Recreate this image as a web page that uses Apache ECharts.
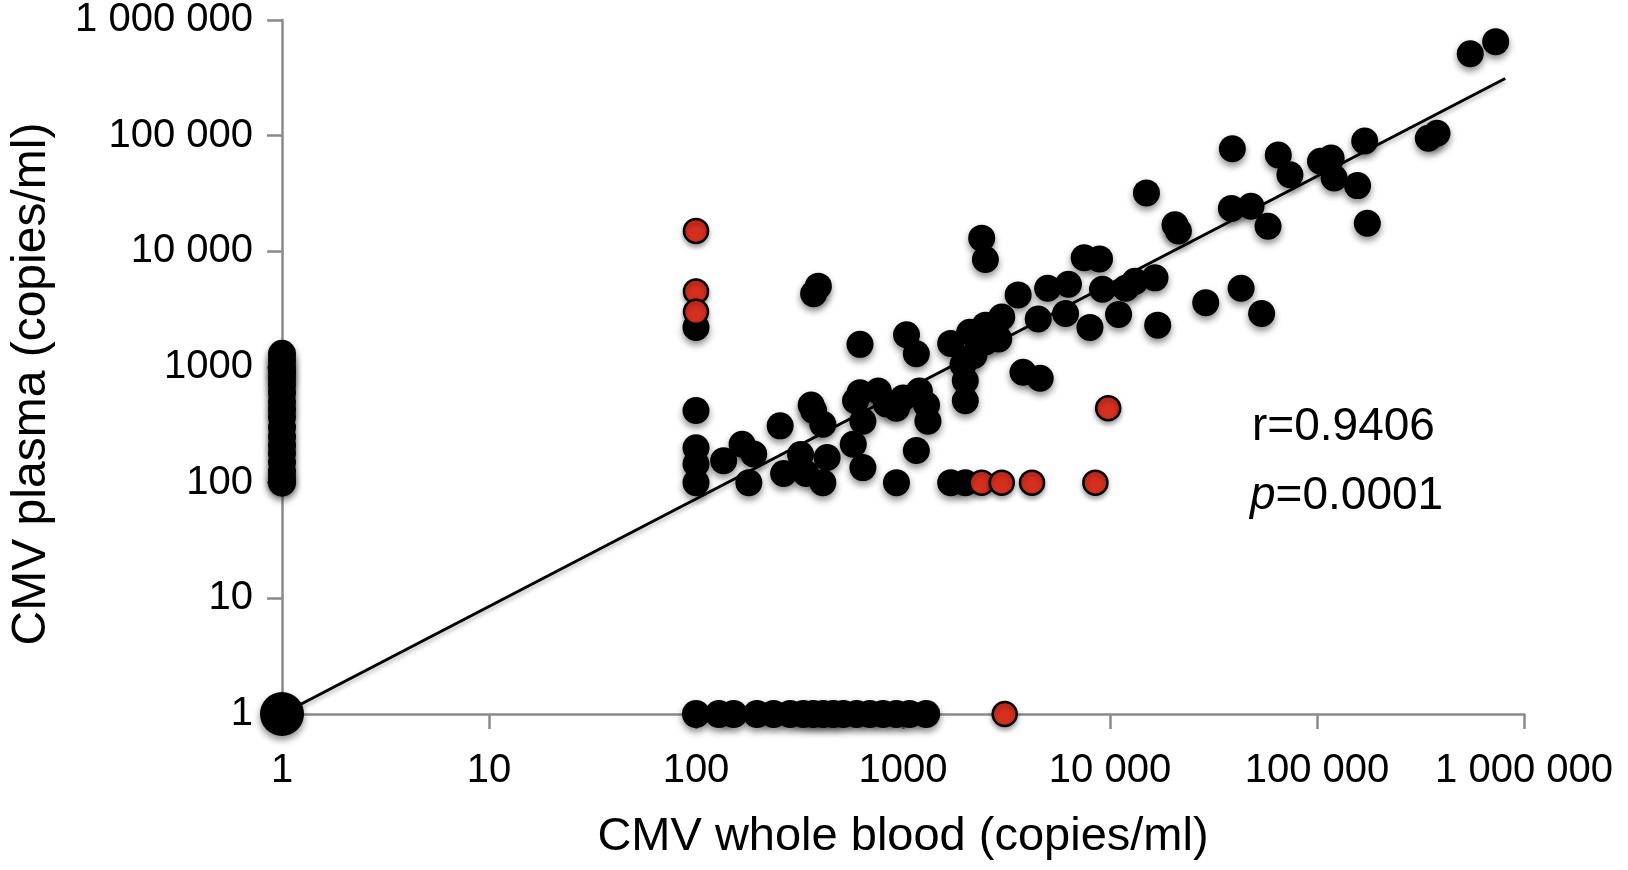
<!DOCTYPE html>
<html>
<head>
<meta charset="utf-8">
<script src="https://cdn.jsdelivr.net/npm/echarts@6/dist/echarts.min.js"></script>
<style>
html,body{margin:0;padding:0;background:#ffffff;}
#chart{width:1628px;height:870px;}
</style>
</head>
<body>
<div id="chart"></div>
<script>
// Tick labels for both log axes (decades 10^0 .. 10^6)
const tickLabels = ['1', '10', '100', '1000', '10 000', '100 000', '1 000 000'];

// Axis titles and statistics
const xTitle = 'CMV whole blood (copies/ml)';
const yTitle = 'CMV plasma (copies/ml)';
const statR = 'r=0.9406';
const statP = '=0.0001';

// [whole blood, plasma] — negative in whole blood (plotted at 1)
const colWholeBloodNeg = [
  [1,1300],[1,1150],[1,1000],[1,900],[1,800],[1,700],[1,600],[1,500],[1,430],[1,370],
  [1,300],[1,250],[1,210],[1,180],[1,150],[1,125],[1,110],[1,100]
];

// [whole blood, plasma] — negative in plasma (plotted at 1)
const rowPlasmaNeg = [
  [100,1],[129,1],[152,1],[197,1],[237,1],[285,1],[330,1],[369,1],[412,1],[461,1],
  [515,1],[597,1],[692,1],[801,1],[929,1],[1076,1],[1294,1]
];

// Both negative
const originPoint = [[1,1]];

// Black points, lower / middle range
const lowerPoints = [
  [100,2200],[100,420],[100,200],[100,145],[100,100],
  [136,155],[167,215],[190,177],[180,100],[255,310],[265,120],[320,175],[340,120],
  [410,320],[370,420],[360,470],[430,165],[410,100],[575,215],[640,135],[590,510],
  [620,600],[760,620],[930,440],[1000,540],[1200,620],[1300,470],[1320,340],[640,340],
  [830,480],[1160,190],[930,100],[1700,100],[2000,100]
];

// Black points, upper-middle range
const middlePoints = [
  [390,5000],[370,4300],[620,1570],[1040,1900],[1160,1300],[1700,1600],[2100,2000],
  [2500,1650],[2900,1750],[2200,1260],[2500,2300],[3000,2700],[3600,4200],[5000,4800],
  [6300,5200],[7500,8800],[8900,8600],[4500,2600],[6100,2900],[8000,2200],[9200,4700],
  [1950,1050],[2000,760],[2000,510],[3800,900],[4600,800],[2400,13000],[2500,8500]
];

// Black points, upper range
const upperPoints = [
  [550000,510000],[730000,650000],[380000,105000],[345000,95000],[170000,90000],
  [39000,77000],[65000,68000],[74000,46000],[104000,60000],[117000,64000],[121000,43000],
  [157000,37000],[175000,17500],[15000,32000],[20600,17000],[21400,15000],[38600,23500],
  [48000,24500],[58000,16500],[11900,4800],[13200,5500],[16500,5900],[11000,2850],
  [17000,2300],[29000,3600],[43000,4800],[54000,2900]
];

// Red points
const redPoints = [
  [100,15000],[100,4500],[100,3000],[9800,440],
  [2400,100],[3000,100],[4200,100],[8500,100],[3100,1]
];

// Regression line end points
const fitLine = [[1,1],[811000,312000]];

const FONT = '"Liberation Sans", Arial, Helvetica, sans-serif';
const AXIS_COLOR = '#8a8a8a';

function decadeLabel(v) {
  const i = Math.round(Math.log10(v));
  return tickLabels[i] !== undefined ? tickLabels[i] : '';
}

const chart = echarts.init(document.getElementById('chart'), null, {renderer: 'canvas'});

const blackStyle = {
  color: '#000000',
  opacity: 1,
  shadowBlur: 7,
  shadowOffsetY: 4,
  shadowColor: 'rgba(0,0,0,0.45)'
};

chart.setOption({
  animation: false,
  backgroundColor: '#ffffff',
  grid: {left: 276, right: 104, top: 16, bottom: 156, containLabel: false},
  xAxis: {
    type: 'log', logBase: 10, min: 1, max: 1000000, splitNumber: 6,
    name: xTitle, nameLocation: 'middle', nameGap: 100,
    nameTextStyle: {fontFamily: FONT, fontSize: 47, color: '#000'},
    axisLine: {lineStyle: {color: AXIS_COLOR, width: 2.5}},
    axisTick: {show: true, inside: false, length: 15, lineStyle: {color: AXIS_COLOR, width: 2.5}},
    minorTick: {show: false},
    splitLine: {show: false},
    axisLabel: {fontFamily: FONT, fontSize: 40, color: '#000', margin: 37, formatter: decadeLabel}
  },
  yAxis: {
    type: 'log', logBase: 10, min: 1, max: 1000000, splitNumber: 6,
    name: yTitle, nameLocation: 'middle', nameGap: 226,
    nameTextStyle: {fontFamily: FONT, fontSize: 48, color: '#000', padding: [0, 34, 0, 0]},
    axisLine: {lineStyle: {color: AXIS_COLOR, width: 2.5}},
    axisTick: {show: true, inside: false, length: 15, lineStyle: {color: AXIS_COLOR, width: 2.5}},
    minorTick: {show: false},
    splitLine: {show: false},
    axisLabel: {fontFamily: FONT, fontSize: 40, color: '#000', margin: 29, padding: [12, 0, 0, 0], formatter: decadeLabel}
  },
  series: [
    {
      type: 'line', data: fitLine, symbol: 'none', z: 1, silent: true,
      lineStyle: {color: '#000', width: 3, opacity: 1, shadowBlur: 4, shadowOffsetY: 3, shadowColor: 'rgba(0,0,0,0.3)'}
    },
    {type: 'scatter', data: colWholeBloodNeg, symbolSize: 28, itemStyle: blackStyle, z: 2},
    {type: 'scatter', data: rowPlasmaNeg, symbolSize: 28, itemStyle: blackStyle, z: 2},
    {type: 'scatter', data: lowerPoints, symbolSize: 27, itemStyle: blackStyle, z: 2},
    {type: 'scatter', data: middlePoints, symbolSize: 27, itemStyle: blackStyle, z: 2},
    {type: 'scatter', data: upperPoints, symbolSize: 27, itemStyle: blackStyle, z: 2},
    {type: 'scatter', data: originPoint, symbolSize: 44, itemStyle: blackStyle, z: 2},
    {
      type: 'scatter', data: redPoints, symbolSize: 24, z: 3,
      itemStyle: {color: '#d52f1f', opacity: 1, borderColor: '#000', borderWidth: 2.5,
        shadowBlur: 5, shadowOffsetY: 3, shadowColor: 'rgba(0,0,0,0.35)'}
    }
  ],
  graphic: [
    {
      type: 'text', left: 1252, top: 404, z: 10,
      style: {text: statR, fontFamily: FONT, fontSize: 46, fill: '#000'}
    },
    {
      type: 'text', left: 1250, top: 473, z: 10,
      style: {
        text: '{i|p}' + statP, fontFamily: FONT, fontSize: 46, fill: '#000',
        rich: {i: {fontFamily: FONT, fontSize: 46, fontStyle: 'italic', fill: '#000'}}
      }
    }
  ]
});
</script>
</body>
</html>
